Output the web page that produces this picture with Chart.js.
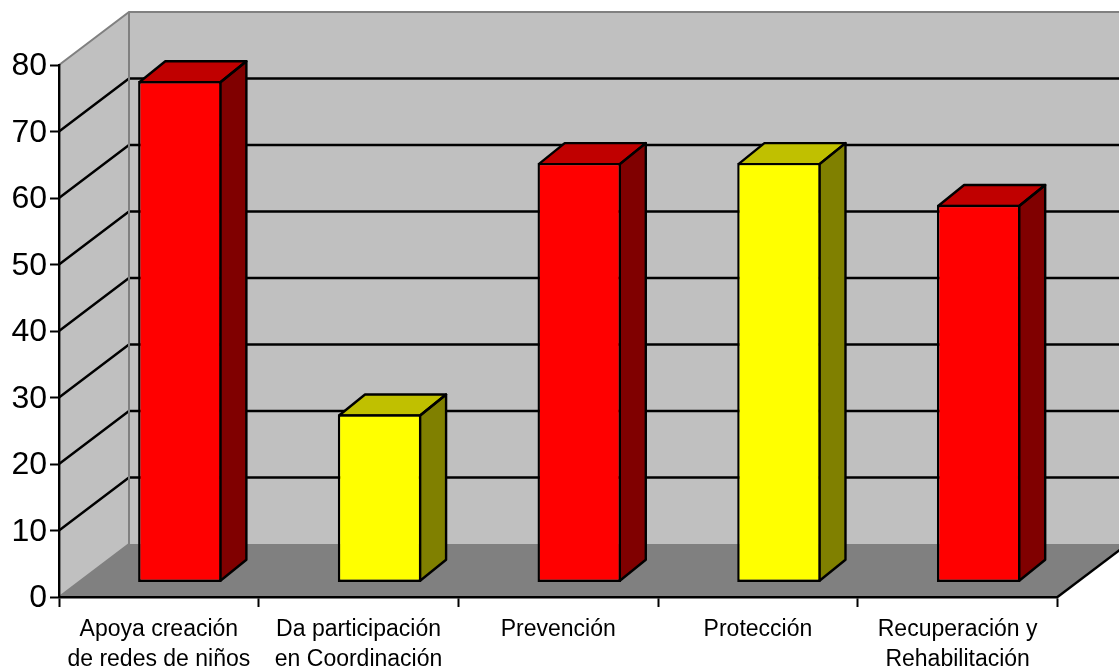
<!DOCTYPE html>
<html>
<head>
<meta charset="utf-8">
<style>
body { margin: 0; background: #fff; }
canvas { display: block; }
</style>
<script src="https://cdn.jsdelivr.net/npm/chart.js@4/dist/chart.umd.min.js"></script>
</head>
<body>
<canvas id="chart1" width="1119" height="669"></canvas>
<script>
const categories = [
    ['Apoya creación', 'de redes de niños'],
    ['Da participación', 'en Coordinación'],
    'Prevención',
    'Protección',
    ['Recuperación y', 'Rehabilitación']
];
const values = [75.4, 25.3, 63.1, 63.1, 56.8];
const tickStep = 10;
const axisMax = 80;

const frontColors = ['#ff0000', '#ffff00', '#ff0000', '#ffff00', '#ff0000'];
const topColors = ['#c00000', '#c0c000', '#c00000', '#c0c000', '#c00000'];
const sideColors = ['#800000', '#808000', '#800000', '#808000', '#800000'];

// depth of the box (walls) and of the bars, in pixels
const wallX = 70, wallY = -53;
const barShiftX = 21, barShiftY = -14.5;
const barDepthX = 26, barDepthY = -21;
const strokeW = 2.4;

const line = (ctx, color, width, points) => {
    ctx.strokeStyle = color;
    ctx.lineWidth = width;
    ctx.beginPath();
    points.forEach((p, i) => i ? ctx.lineTo(p[0], p[1]) : ctx.moveTo(p[0], p[1]));
    ctx.stroke();
};

const fillShape = (ctx, color, points) => {
    ctx.fillStyle = color;
    ctx.beginPath();
    points.forEach((p, i) => i ? ctx.lineTo(p[0], p[1]) : ctx.moveTo(p[0], p[1]));
    ctx.closePath();
    ctx.fill();
};

const box3d = {
    id: 'box3d',
    beforeDraw(chart) {
        const ctx = chart.ctx;
        const { left, right, top, bottom } = chart.chartArea;
        const far = chart.width + 100;

        // the y labels sit a little lower than canvas "middle" puts them
        chart.scales.y.getLabelItems().forEach((item) => { item.options.translation[1] += 1.5; });

        ctx.save();
        // walls and floor
        fillShape(ctx, '#c0c0c0', [[left, top], [left + wallX, top + wallY], [far, top + wallY], [far, bottom + wallY], [left + wallX, bottom + wallY], [left, bottom]]);
        fillShape(ctx, '#808080', [[left, bottom], [left + wallX, bottom + wallY], [far, bottom + wallY], [right + wallX, bottom + wallY], [right, bottom]]);

        // gridlines, side wall then back wall
        chart.scales.y.ticks.forEach((t) => {
            if (t.value === 0 || t.value === axisMax) return;
            const y = chart.scales.y.getPixelForValue(t.value);
            line(ctx, '#000', strokeW, [[left, y], [left + wallX, y + wallY], [far, y + wallY]]);
        });

        // grey edges
        line(ctx, '#808080', 2, [[left, top], [left + wallX, top + wallY], [far, top + wallY]]);
        line(ctx, '#808080', 2, [[left + wallX, top + wallY], [left + wallX, bottom + wallY], [left, bottom]]);
        line(ctx, '#000', strokeW, [[right, bottom], [right + wallX, bottom + wallY]]);
        ctx.restore();
    },
    beforeDatasetsDraw(chart) {
        const ctx = chart.ctx;

        // top and side of each bar
        ctx.save();
        ctx.lineJoin = 'round';
        chart.getDatasetMeta(0).data.forEach((bar, i) => {
            const p = bar.getProps(['x', 'y', 'base', 'width'], true);
            const inset = strokeW / 2;
            const l = p.x - p.width / 2 + barShiftX + inset;
            const r = p.x + p.width / 2 + barShiftX - inset;
            const t = p.y + barShiftY + inset;
            const b = p.base + barShiftY - inset;
            const topFace = [[l, t], [l + barDepthX, t + barDepthY], [r + barDepthX, t + barDepthY], [r, t]];
            const sideFace = [[r, t], [r + barDepthX, t + barDepthY], [r + barDepthX, b + barDepthY], [r, b]];
            fillShape(ctx, topColors[i], topFace);
            fillShape(ctx, sideColors[i], sideFace);
            line(ctx, '#000', strokeW, topFace.concat([topFace[0]]));
            line(ctx, '#000', strokeW, sideFace.concat([sideFace[0]]));
        });
        ctx.restore();

        // front faces are drawn by Chart.js, moved into the box
        ctx.save();
        ctx.translate(barShiftX, barShiftY);
    },
    afterDatasetsDraw(chart) {
        chart.ctx.restore();
    }
};

new Chart(document.getElementById('chart1'), {
    type: 'bar',
    data: {
        labels: categories,
        datasets: [{
            data: values,
            backgroundColor: frontColors,
            borderColor: '#000',
            borderWidth: strokeW,
            borderSkipped: false,
            categoryPercentage: 1,
            barPercentage: 0.418,
            clip: false
        }]
    },
    options: {
        responsive: false,
        animation: false,
        devicePixelRatio: 1,
        layout: { padding: { top: 65, right: 61.5 } },
        plugins: { legend: { display: false }, title: { display: false }, tooltip: { enabled: false } },
        scales: {
            x: {
                afterFit: (scale) => { scale.height = 72; },
                border: { color: '#000', width: 2.4 },
                grid: { drawOnChartArea: false, tickColor: '#000', tickWidth: 2, tickLength: 10 },
                ticks: {
                    color: '#000',
                    padding: 8,
                    maxRotation: 0,
                    autoSkip: false,
                    font: { family: '"Liberation Sans"', size: 23, lineHeight: 1.28 }
                }
            },
            y: {
                min: 0,
                max: axisMax,
                afterFit: (scale) => { scale.width = 59; },
                border: { color: '#000', width: 2.4 },
                grid: { drawOnChartArea: false, tickColor: '#000', tickWidth: 2, tickLength: 9 },
                ticks: {
                    stepSize: tickStep,
                    color: '#000',
                    padding: 3,
                    font: { family: '"Liberation Sans"', size: 32 }
                }
            }
        }
    },
    plugins: [box3d]
});
</script>
</body>
</html>
